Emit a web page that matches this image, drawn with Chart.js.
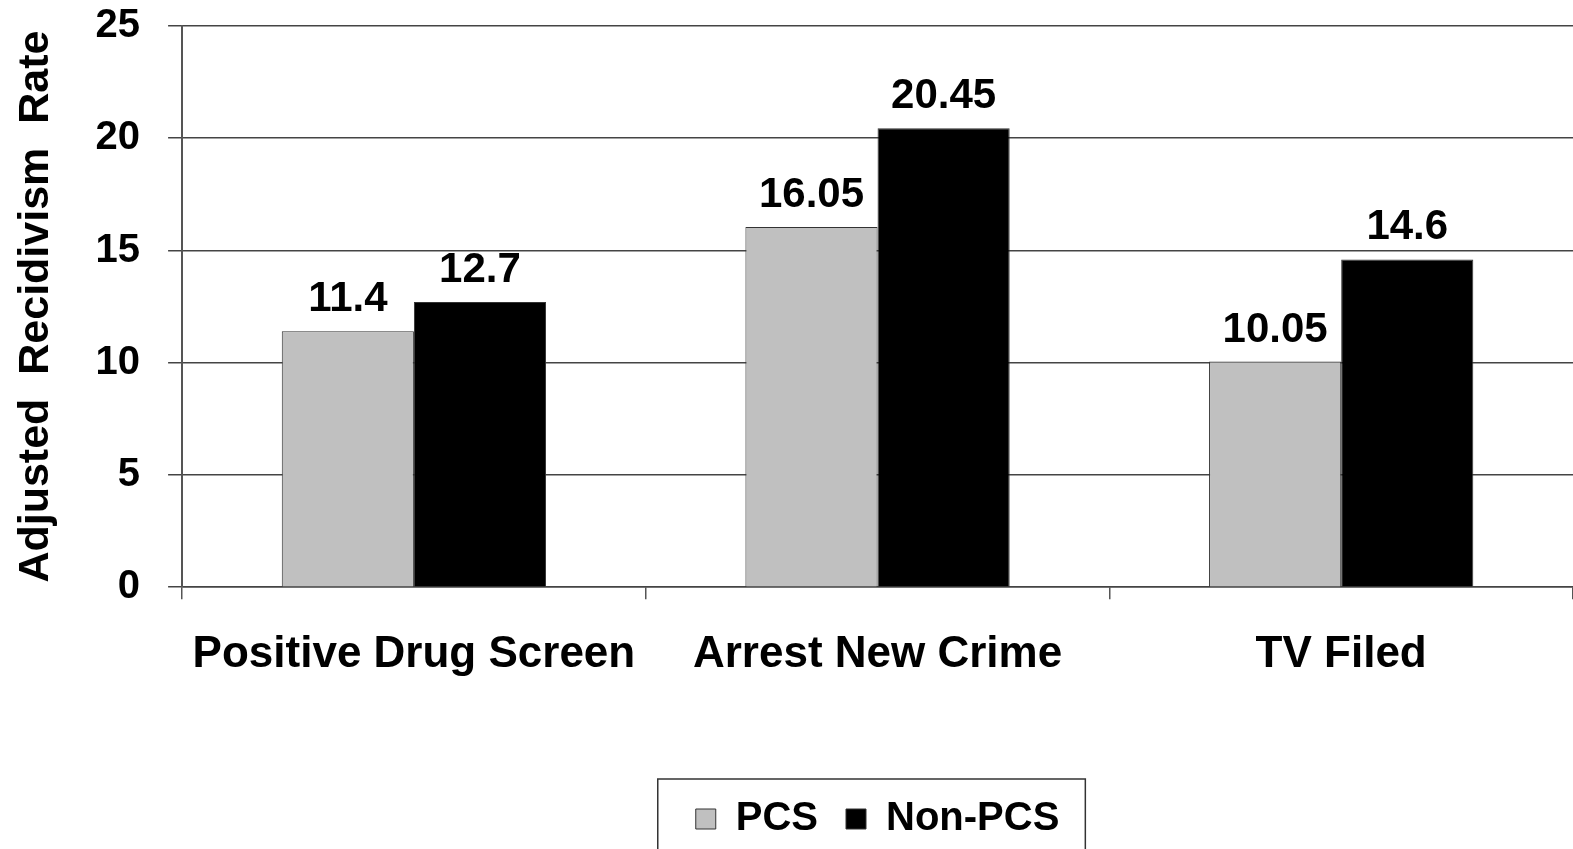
<!DOCTYPE html>
<html>
<head>
<meta charset="utf-8">
<script src="https://cdn.jsdelivr.net/npm/chart.js@4/dist/chart.umd.min.js"></script>
<style>
    html, body { margin: 0; padding: 0; background: #fff; overflow: hidden; }
    #wrap { width: 1573px; height: 849px; position: relative; }
</style>
</head>
<body>
<div id="wrap"><canvas id="grafico"></canvas></div>
<script>
const categories = ['Positive Drug Screen', 'Arrest New Crime', 'TV Filed'];
const pcsValues = [11.4, 16.05, 10.05];
const nonPcsValues = [12.7, 20.45, 14.6];
const yTicks = [0, 5, 10, 15, 20, 25];

const fontFamily = '"Liberation Sans", Arial, sans-serif';

// valores em cima das barras
const barLabels = {
    id: 'barLabels',
    afterDatasetsDraw(chart) {
        const ctx = chart.ctx;
        ctx.save();
        ctx.font = 'bold 42px ' + fontFamily;
        ctx.fillStyle = '#000';
        ctx.textAlign = 'center';
        ctx.textBaseline = 'alphabetic';
        chart.data.datasets.forEach((ds, i) => {
            const meta = chart.getDatasetMeta(i);
            meta.data.forEach((bar, j) => {
                ctx.fillText(String(ds.data[j]), bar.x, bar.y - 20);
            });
        });
        ctx.restore();
    }
};

// caixa em volta da legenda
const legendBox = {
    id: 'legendBox',
    afterDraw(chart) {
        const boxes = chart.legend.legendHitBoxes;
        if (!boxes || !boxes.length) return;
        const left = Math.min(...boxes.map(b => b.left));
        const right = Math.max(...boxes.map(b => b.left + b.width));
        const top = Math.min(...boxes.map(b => b.top));
        const ctx = chart.ctx;
        ctx.save();
        ctx.strokeStyle = '#333';
        ctx.lineWidth = 1.5;
        ctx.strokeRect(left - 38, top - 20, right - left + 64, 120);
        ctx.restore();
    }
};

const data = {
    labels: categories,
    datasets: [
        {
            label: 'PCS',
            data: pcsValues,
            backgroundColor: '#c0c0c0',
            borderColor: '#333',
            borderWidth: 1,
            barPercentage: 1,
            categoryPercentage: 0.57
        },
        {
            label: 'Non-PCS',
            data: nonPcsValues,
            backgroundColor: '#000',
            borderColor: '#333',
            borderWidth: 1,
            barPercentage: 1,
            categoryPercentage: 0.57
        }
    ]
};

const ctx = document.getElementById('grafico').getContext('2d');

new Chart(ctx, {
    type: 'bar',
    data: data,
    plugins: [barLabels, legendBox],
    options: {
        responsive: true,
        maintainAspectRatio: false,
        animation: false,
        layout: { padding: { top: 0, right: -6, left: 0, bottom: 0 } },
        plugins: {
            tooltip: { enabled: false },
            legend: {
                position: 'bottom',
                fullSize: false,
                labels: {
                    color: '#000',
                    font: { family: fontFamily, size: 40, weight: 'bold' },
                    boxWidth: 20,
                    boxHeight: 20,
                    padding: 28
                }
            }
        },
        scales: {
            x: {
                offset: true,
                grid: {
                    display: true,
                    offset: true,
                    drawOnChartArea: false,
                    drawTicks: true,
                    tickLength: 12,
                    color: '#555',
                    lineWidth: 1.5
                },
                border: { display: true, color: '#444', width: 1.5 },
                ticks: {
                    color: '#000',
                    padding: 29,
                    font: { family: fontFamily, size: 44, weight: 'bold' }
                },
                afterFit(scale) {
                    scale.height += 61;
                }
            },
            y: {
                min: 0,
                max: 25,
                afterBuildTicks(scale) {
                    scale.ticks = yTicks.map(v => ({ value: v }));
                },
                afterFit(scale) {
                    scale.paddingTop = 26;
                },
                grid: {
                    color: '#444',
                    lineWidth: 1.5,
                    drawTicks: true,
                    tickLength: 14
                },
                border: { display: true, color: '#555', width: 2 },
                ticks: {
                    color: '#000',
                    padding: 28,
                    font: { family: fontFamily, size: 40, weight: 'bold' }
                },
                title: {
                    display: true,
                    text: 'Adjusted  Recidivism  Rate',
                    color: '#000',
                    font: { family: fontFamily, size: 43, weight: 'bold' },
                    padding: { top: 10, bottom: 6 }
                }
            }
        }
    }
});
</script>
</body>
</html>
